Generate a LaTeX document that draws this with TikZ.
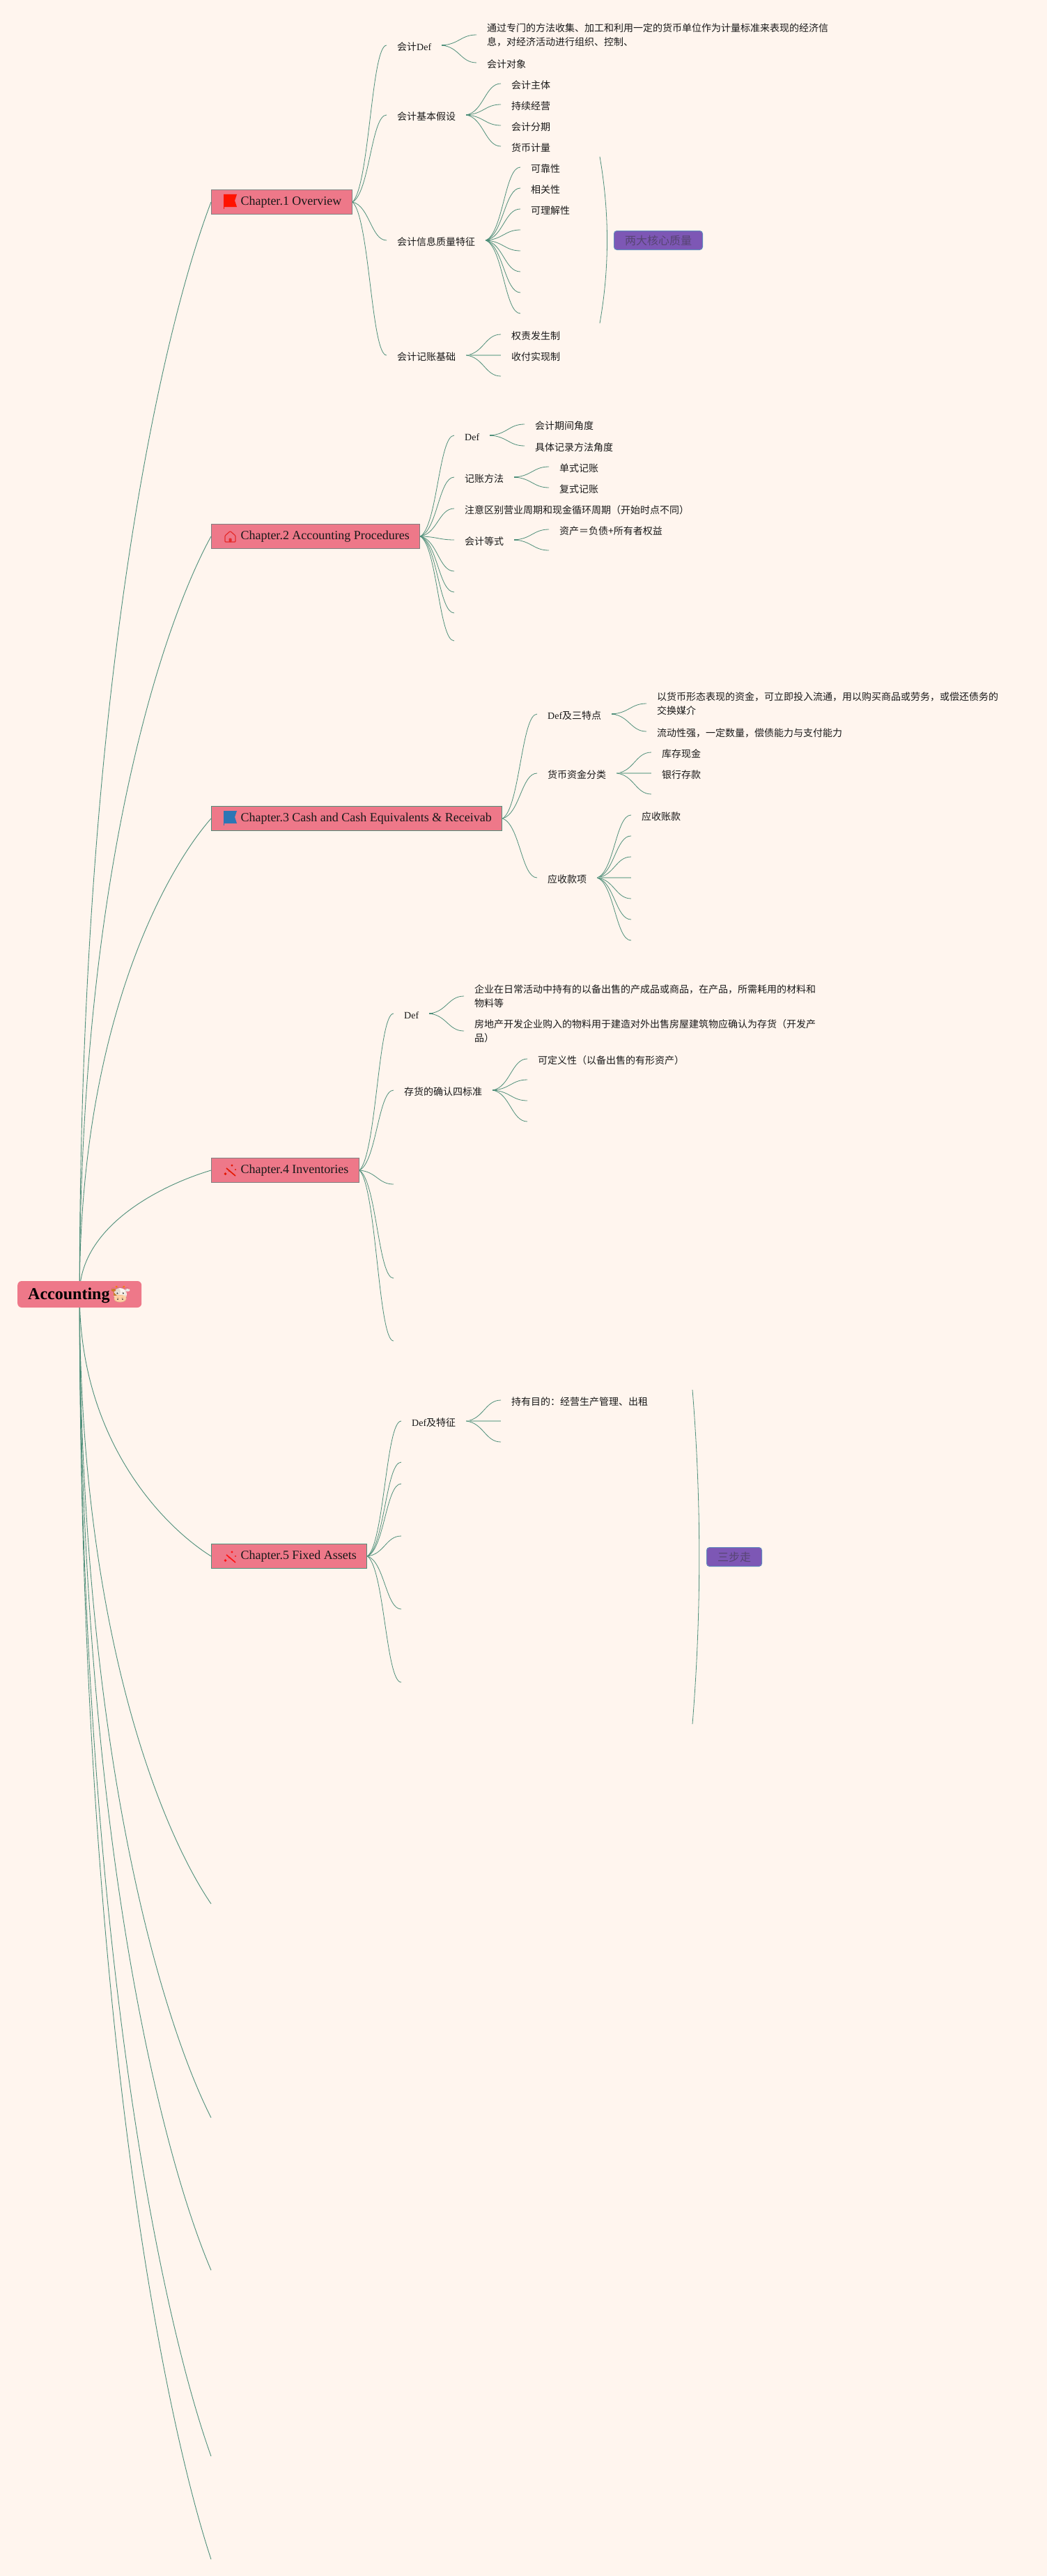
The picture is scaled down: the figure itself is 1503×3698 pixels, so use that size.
\documentclass[tikz,border=0pt]{standalone}
\usepackage{fontspec}
\setmainfont{Liberation Serif}
\newfontfamily\cjk{Noto Sans CJK SC}
\newfontfamily\lat{Liberation Serif}
\newfontfamily\emojifont{Noto Emoji}
\usetikzlibrary{calc,backgrounds}
\definecolor{bgc}{HTML}{FFF5EE}
\definecolor{linec}{HTML}{4F8F7A}
\definecolor{linel}{HTML}{A9C6B6}
\definecolor{boxf}{HTML}{EE7889}
\definecolor{purp}{HTML}{7D57B5}
\tikzset{
 conn/.style={draw=linec,line width=.8pt},
 rootconn/.style={draw=linec,line width=.9pt},
 flatconn/.style={draw=linel,line width=1.8pt},
 stubline/.style={draw=linec,line width=1.7pt},
 leaf/.style={anchor=west,inner xsep=15pt,inner ysep=0pt,font=\cjk\fontsize{14}{20}\selectfont,text=black!90,text height=16.5pt,text depth=2pt},
 multileaf/.style={anchor=west,inner xsep=15pt,inner ysep=0pt,font=\cjk\fontsize{14}{20}\selectfont,text=black!90,align=left,execute at begin node=\rule{0pt}{18pt}},
 chap/.style={anchor=west,draw=#1,line width=1pt,fill=boxf,inner xsep=15pt,inner ysep=0pt,minimum height=35pt,font=\fontsize{18}{20}\selectfont,text=black!90},
 chap/.default=gray,
 rootbox/.style={anchor=west,fill=boxf,rounded corners=6pt,inner xsep=15pt,inner ysep=0pt,minimum height=38pt,text width=148pt,align=left,font=\bfseries\fontsize{24}{26}\selectfont},
 tagbox/.style={anchor=west,fill=purp,draw=purp!70!cyan!80!gray,line width=1pt,rounded corners=4pt,inner xsep=15.5pt,inner ysep=0pt,minimum height=27pt,font=\cjk\fontsize{16}{18}\selectfont,text=purp!55!black!90},
}
\newcommand\lk[2]{\draw[conn] let \p1=(#1.east),\p2=(#2.west) in (\p1) .. controls ({\x1+.5*(\x2-\x1)},{\y1+.1*(\y2-\y1)}) and ({\x1+.55*(\x2-\x1)},\y2) .. (\p2);}
\newcommand\lke[2]{\draw[conn] let \p1=(#1.east),\p2=(#2) in (\p1) .. controls ({\x1+.5*(\x2-\x1)},{\y1+.1*(\y2-\y1)}) and ({\x1+.55*(\x2-\x1)},\y2) .. (\p2);}
\newcommand\rl[1]{\draw[rootconn] let \p1=(root.center),\p2=(#1) in (\p1) .. controls (\x1,{\y2+.45*(\y1-\y2)}) and ({\x1+.62*(\x2-\x1)},{\y2+.12*(\y1-\y2)}) .. (\p2);}
\newcommand\stub[1]{\draw[stubline] (#1.east) -- ++(6,0);}
\newcommand\flaticon[3]{\begin{scope}[shift={(#1,#2)}]
 \fill[#3] (18,7) -- (37,7) -- (34,16) -- (37,25) -- (18,25) -- cycle;
 \draw[#3,line width=.8pt] (18.4,7) -- (18.4,28);
\end{scope}}
\newcommand\houseicon[2]{\begin{scope}[shift={(#1,#2)}]
 \draw[draw=red!75!pink!90!black,line width=1.2pt,rounded corners=1pt] (20,26) -- (20,17) -- (27.5,10.5) -- (35,17) -- (35,26) -- cycle;
 \fill[red!75!pink!90!black,rounded corners=1pt] (25.5,26) -- (25.5,20.5) -- (29.5,20.5) -- (29.5,26) -- cycle;
\end{scope}}
\newcommand\wandicon[3]{\begin{scope}[shift={(#1,#2)}]
 \draw[#3,line width=1.6pt] (22,15) -- (35,26);
 \foreach \sx/\sy/\sr in {20.5/23/2,30/11/1.6,35/17/1.1,26/19/1.2}{
  \fill[#3] (\sx-\sr,\sy) -- (\sx,\sy-\sr) -- (\sx+\sr,\sy) -- (\sx,\sy+\sr) -- cycle;}
\end{scope}}
\begin{document}
\begin{tikzpicture}[x=1pt,y=-1pt]
\useasboundingbox (0,0) rectangle (1503,3698);
% root
\node[rootbox] (root) at (25,1858) {\rule{0pt}{21pt}Accounting};
\fill[white!92!brown] (172.5,1858) ellipse [x radius=9.5,y radius=9];
\fill[brown!70!orange] (163,1852) arc[start angle=180,end angle=90,radius=8] -- (172,1860) -- (163,1860) -- cycle;
\fill[brown!70!orange] (163,1852) ellipse [x radius=3.5,y radius=2];
\fill[white!90!gray] (183,1852) ellipse [x radius=3.5,y radius=2];
\fill[orange] (167,1847) circle (1.5);
\fill[orange] (178,1847) circle (1.5);
\fill[orange!35!white] (172.5,1864) ellipse [x radius=9,y radius=5.5];
\fill[black!80] (168.5,1856.5) circle (1.2);
\fill[black!80] (177,1856.5) circle (1.2);
\fill[black!80] (169,1865) circle (1);
\fill[black!80] (176,1865) circle (1);
\node[inner sep=0pt,text=brown!60!black,opacity=.15,font=\emojifont\fontsize{24}{26}\selectfont] (cow) at (172.5,1858) {🐮};
% chapters
\node[chap] (c1) at (303,290) {\hspace*{27pt}Chapter.1 Overview};
\node[chap] (c2) at (303,770) {\hspace*{27pt}Chapter.2 Accounting Procedures};
\node[chap=linec] (c3) at (303,1175) {\hspace*{27pt}Chapter.3 Cash and Cash Equivalents \& Receivab};
\node[chap] (c4) at (303,1680) {\hspace*{27pt}Chapter.4 Inventories};
\node[chap=linec] (c5) at (303,2234) {\hspace*{27pt}Chapter.5 Fixed Assets};
\flaticon{303}{272}{red!85!orange}
\houseicon{303}{752}
\flaticon{303}{1157}{cyan!60!blue!85!black}
\wandicon{303}{1662}{red!80!orange!90!black}
\wandicon{303}{2217}{red!90!pink}
\coordinate (c6) at (303,2733);
\coordinate (c7) at (303,3040);
\coordinate (c8) at (303,3259);
\coordinate (c9) at (303,3526);
\coordinate (c10) at (303,3674);
% chapter 1
\node[leaf] (a1) at (555,65) {会计{\lat Def}};
\node[multileaf] (a11) at (684,50) {通过专门的方法收集、加工和利用一定的货币单位作为计量标准来表现的经济信\\息，对经济活动进行组织、控制、};
\node[leaf] (a12) at (684,90) {会计对象};
\node[leaf] (a2) at (555,165) {会计基本假设};
\node[leaf] (a21) at (719,120) {会计主体};
\node[leaf] (a22) at (719,150) {持续经营};
\node[leaf] (a23) at (719,180) {会计分期};
\node[leaf] (a24) at (719,210) {货币计量};
\node[leaf] (a3) at (555,345) {会计信息质量特征};
\node[leaf] (a31) at (747,240) {可靠性};
\node[leaf] (a32) at (747,270) {相关性};
\node[leaf] (a33) at (747,300) {可理解性};
\coordinate (a34) at (747,330);
\coordinate (a35) at (747,360);
\coordinate (a36) at (747,390);
\coordinate (a37) at (747,420);
\coordinate (a38) at (747,450);
\node[leaf] (a4) at (555,510) {会计记账基础};
\node[leaf] (a41) at (719,480) {权责发生制};
\node[leaf] (a42) at (719,510) {收付实现制};
\coordinate (a43) at (719,540);
\coordinate (bra) at (861,225);
\coordinate (brb) at (861,464);
\node[tagbox] (tag1) at (881,345) {两大核心质量};
% chapter 2
\node[leaf] (b1) at (652,625) {{\lat Def}};
\node[leaf] (b11) at (753,609) {会计期间角度};
\node[leaf] (b12) at (753,640) {具体记录方法角度};
\node[leaf] (b2) at (652,685) {记账方法};
\node[leaf] (b21) at (788,670) {单式记账};
\node[leaf] (b22) at (788,700) {复式记账};
\node[leaf] (b3) at (652,730) {注意区别营业周期和现金循环周期（开始时点不同）};
\node[leaf] (b4) at (652,775) {会计等式};
\node[leaf] (b41) at (788,760) {资产＝负债+所有者权益};
\coordinate (b42) at (788,790);
\coordinate (b5) at (652,820);
\coordinate (b6) at (652,850);
\coordinate (b7) at (652,880);
\coordinate (b8) at (652,920);
% chapter 3
\node[leaf] (d1) at (771,1025) {{\lat Def}及三特点};
\node[multileaf] (d11) at (928,1010) {以货币形态表现的资金，可立即投入流通，用以购买商品或劳务，或偿还债务的\\交换媒介};
\node[leaf] (d12) at (928,1050) {流动性强，一定数量，偿债能力与支付能力};
\node[leaf] (d2) at (771,1110) {货币资金分类};
\node[leaf] (d21) at (935,1080) {库存现金};
\node[leaf] (d22) at (935,1110) {银行存款};
\coordinate (d23) at (935,1140);
\node[leaf] (d3) at (771,1260) {应收款项};
\node[leaf] (d31) at (906,1170) {应收账款};
\coordinate (d32) at (906,1200);
\coordinate (d33) at (906,1230);
\coordinate (d34) at (906,1260);
\coordinate (d35) at (906,1290);
\coordinate (d36) at (906,1320);
\coordinate (d37) at (906,1350);
% chapter 4
\node[leaf] (e1) at (565,1455) {{\lat Def}};
\node[multileaf] (e11) at (666,1430) {企业在日常活动中持有的以备出售的产成品或商品，在产品，所需耗用的材料和\\物料等};
\node[multileaf] (e12) at (666,1480) {房地产开发企业购入的物料用于建造对外出售房屋建筑物应确认为存货（开发产\\品）};
\node[leaf] (e2) at (565,1565) {存货的确认四标准};
\node[leaf] (e21) at (757,1520) {可定义性（以备出售的有形资产）};
\coordinate (e22) at (757,1550);
\coordinate (e23) at (757,1580);
\coordinate (e24) at (757,1610);
\coordinate (e3) at (565,1700);
\coordinate (e4) at (565,1835);
\coordinate (e5) at (565,1925);
% chapter 5
\node[leaf] (f1) at (576,2040) {{\lat Def}及特征};
\node[leaf] (f11) at (719,2010) {持有目的：经营生产管理、出租};
\coordinate (f12) at (719,2040);
\coordinate (f13) at (719,2070);
\coordinate (f2) at (576,2099);
\coordinate (f3) at (576,2130);
\coordinate (f4) at (576,2205);
\coordinate (f5) at (576,2310);
\coordinate (f6) at (576,2415);
\coordinate (brc) at (994,1995);
\coordinate (brd) at (994,2475);
\node[tagbox] (tag2) at (1014,2235) {三步走};
% connectors and page colour
\begin{scope}[on background layer]
\fill[bgc] (0,0) rectangle (1503,3698);
\rl{c1.west}\rl{c2.west}\rl{c3.west}\rl{c4.west}\rl{c5.west}
\rl{c6}\rl{c7}\rl{c8}\rl{c9}\rl{c10}
\lk{c1}{a1}\lk{c1}{a2}\lk{c1}{a3}\lk{c1}{a4}
\stub{a1}\lk{a1}{a11}\lk{a1}{a12}
\stub{a2}\lk{a2}{a21}\lk{a2}{a22}\lk{a2}{a23}\lk{a2}{a24}
\stub{a3}\lk{a3}{a31}\lk{a3}{a32}\lk{a3}{a33}\lke{a3}{a34}\lke{a3}{a35}\lke{a3}{a36}\lke{a3}{a37}\lke{a3}{a38}
\stub{a4}\lk{a4}{a41}\draw[flatconn] (a4.east) -- (a42.west);\lke{a4}{a43}
\draw[conn] (bra) .. controls (875,305) and (875,385) .. (brb);
\lk{c2}{b1}\lk{c2}{b2}\lk{c2}{b3}\lk{c2}{b4}\lke{c2}{b5}\lke{c2}{b6}\lke{c2}{b7}\lke{c2}{b8}
\stub{b1}\lk{b1}{b11}\lk{b1}{b12}
\stub{b2}\lk{b2}{b21}\lk{b2}{b22}
\stub{b4}\lk{b4}{b41}\lke{b4}{b42}
\lk{c3}{d1}\lk{c3}{d2}\lk{c3}{d3}
\stub{d1}\lk{d1}{d11}\lk{d1}{d12}
\stub{d2}\lk{d2}{d21}\draw[flatconn] (d2.east) -- (d22.west);\lke{d2}{d23}
\stub{d3}\lk{d3}{d31}\lke{d3}{d32}\lke{d3}{d33}\draw[flatconn] (d3.east) -- (d34);\lke{d3}{d35}\lke{d3}{d36}\lke{d3}{d37}
\lk{c4}{e1}\lk{c4}{e2}\lke{c4}{e3}\lke{c4}{e4}\lke{c4}{e5}
\stub{e1}\lk{e1}{e11}\lk{e1}{e12}
\stub{e2}\lk{e2}{e21}\lke{e2}{e22}\lke{e2}{e23}\lke{e2}{e24}
\lk{c5}{f1}\lke{c5}{f2}\lke{c5}{f3}\lke{c5}{f4}\lke{c5}{f5}\lke{c5}{f6}
\stub{f1}\lk{f1}{f11}\draw[flatconn] (f1.east) -- (f12);\lke{f1}{f13}
\draw[conn] (brc) .. controls (1007,2155) and (1007,2315) .. (brd);
\end{scope}
\end{tikzpicture}
\end{document}
